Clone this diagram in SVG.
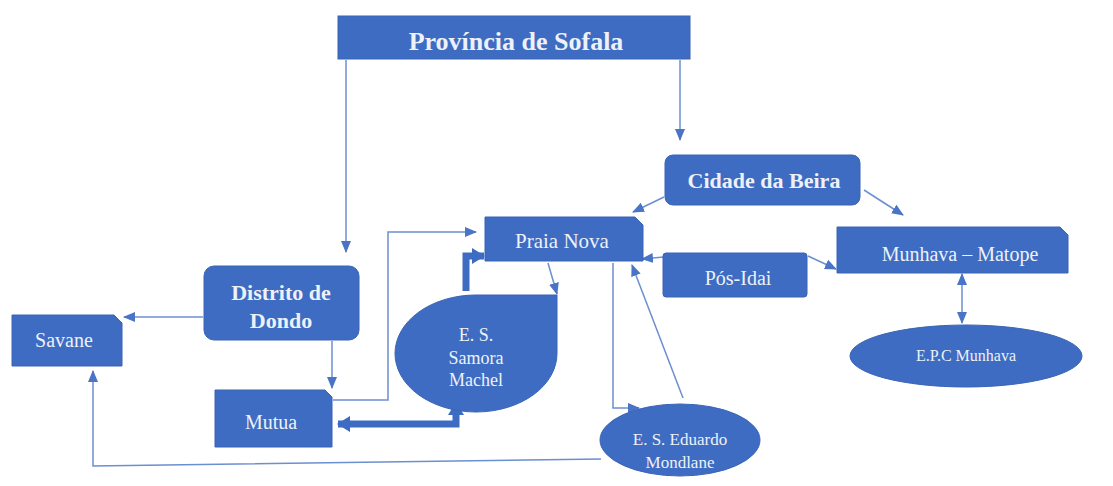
<svg xmlns="http://www.w3.org/2000/svg" width="1113" height="486" viewBox="0 0 1113 486">
<style>
.n{fill:#3d6cc2;stroke:#3a65b5;stroke-width:1}
.t{fill:#eef1f8;font-family:"Liberation Serif",serif;text-anchor:middle}
.b{font-weight:bold}
.c{fill:none;stroke:#6b8fd0;stroke-width:1.5}
.k{fill:none;stroke:#3d6cc2;stroke-width:7}
</style>
<defs>
<marker id="a" markerWidth="12" markerHeight="12" refX="11" refY="6" orient="auto" markerUnits="userSpaceOnUse"><path d="M0,1 L12,6 L0,11 Z" fill="#4a74c6"/></marker>
<marker id="as" markerWidth="12" markerHeight="12" refX="1" refY="6" orient="auto" markerUnits="userSpaceOnUse"><path d="M12,1 L0,6 L12,11 Z" fill="#4a74c6"/></marker>
<marker id="ka" markerWidth="16" markerHeight="18" refX="12" refY="9" orient="auto" markerUnits="userSpaceOnUse"><path d="M0,1 L13,9 L0,17 Z" fill="#3d6cc2"/></marker>
<marker id="kas" markerWidth="16" markerHeight="18" refX="4" refY="9" orient="auto" markerUnits="userSpaceOnUse"><path d="M16,1 L3,9 L16,17 Z" fill="#3d6cc2"/></marker>
</defs>
<rect width="1113" height="486" fill="#ffffff"/>
<g id="connectors">
<path class="c" d="M346,60 V252" marker-end="url(#a)"/>
<path class="c" d="M680,60 V140" marker-end="url(#a)"/>
<path class="c" d="M664,197 L633,212" marker-end="url(#a)"/>
<path class="c" d="M864,190 L903,215" marker-end="url(#a)"/>
<path class="c" d="M203,317 H124" marker-end="url(#a)"/>
<path class="c" d="M332,341 V388" marker-end="url(#a)"/>
<path class="c" d="M333,400 H388 V232 H476" marker-end="url(#a)"/>
<path class="c" d="M548,263 L557,294" marker-end="url(#a)"/>
<path class="c" d="M613,263 V408 H639" marker-end="url(#a)"/>
<path class="c" d="M683,398 L632,265" marker-end="url(#a)"/>
<path class="c" d="M664,257 L642,259" marker-end="url(#a)"/>
<path class="c" d="M808,256 L836,269" marker-end="url(#a)"/>
<path class="c" d="M962,274 V323" marker-start="url(#as)" marker-end="url(#a)"/>
<path class="c" d="M601,459 L93,466 V371" marker-end="url(#a)"/>
<path class="k" d="M456,403 V424 H338" marker-start="url(#kas)" marker-end="url(#ka)"/>
<path class="k" d="M466,291 V256 H484" marker-end="url(#ka)"/>
</g>
<g id="provincia">
<rect class="n" x="338" y="16" width="352" height="43"/>
<text class="t b" x="516" y="50" font-size="26">Província de Sofala</text>
</g>
<g id="cidade">
<rect class="n" x="665" y="155" width="195" height="50" rx="8"/>
<text class="t b" x="764" y="188" font-size="22">Cidade da Beira</text>
</g>
<g id="praia">
<path class="n" d="M485,217 H635 L643,225 V261 H485 Z"/>
<text class="t" x="562" y="248" font-size="21">Praia Nova</text>
</g>
<g id="distrito">
<rect class="n" x="204" y="266" width="155" height="74" rx="10"/>
<text class="t b" x="281" y="300" font-size="22">Distrito de</text>
<text class="t b" x="281" y="328" font-size="22">Dondo</text>
</g>
<g id="savane">
<path class="n" d="M12,315 H114 L122,323 V366 H12 Z"/>
<text class="t" x="64" y="347" font-size="20">Savane</text>
</g>
<g id="mutua">
<path class="n" d="M215,390 H325 L332,397 V447 H215 Z"/>
<text class="t" x="271" y="429" font-size="20">Mutua</text>
</g>
<g id="samora">
<path class="n" d="M557,295 V353 A81,58.5 0 0 1 476,412 A81,58.5 0 0 1 395,353 A81,58.5 0 0 1 476,295 Z"/>
<text class="t" x="476" y="341" font-size="18">E. S.</text>
<text class="t" x="476" y="364" font-size="18">Samora</text>
<text class="t" x="476" y="386" font-size="18">Machel</text>
</g>
<g id="eduardo">
<ellipse class="n" cx="680" cy="440" rx="80" ry="36"/>
<text class="t" x="680" y="445" font-size="17">E. S. Eduardo</text>
<text class="t" x="680" y="468" font-size="17">Mondlane</text>
</g>
<g id="posidai">
<rect class="n" x="663" y="253" width="144" height="44" rx="3"/>
<text class="t" x="738" y="285" font-size="20">Pós-Idai</text>
</g>
<g id="munhava">
<path class="n" d="M837,227 H1060 L1068,235 V273 H837 Z"/>
<text class="t" x="960" y="261" font-size="20">Munhava – Matope</text>
</g>
<g id="epc">
<ellipse class="n" cx="966" cy="356" rx="116" ry="31"/>
<text class="t" x="966" y="361" font-size="16">E.P.C Munhava</text>
</g>
</svg>
